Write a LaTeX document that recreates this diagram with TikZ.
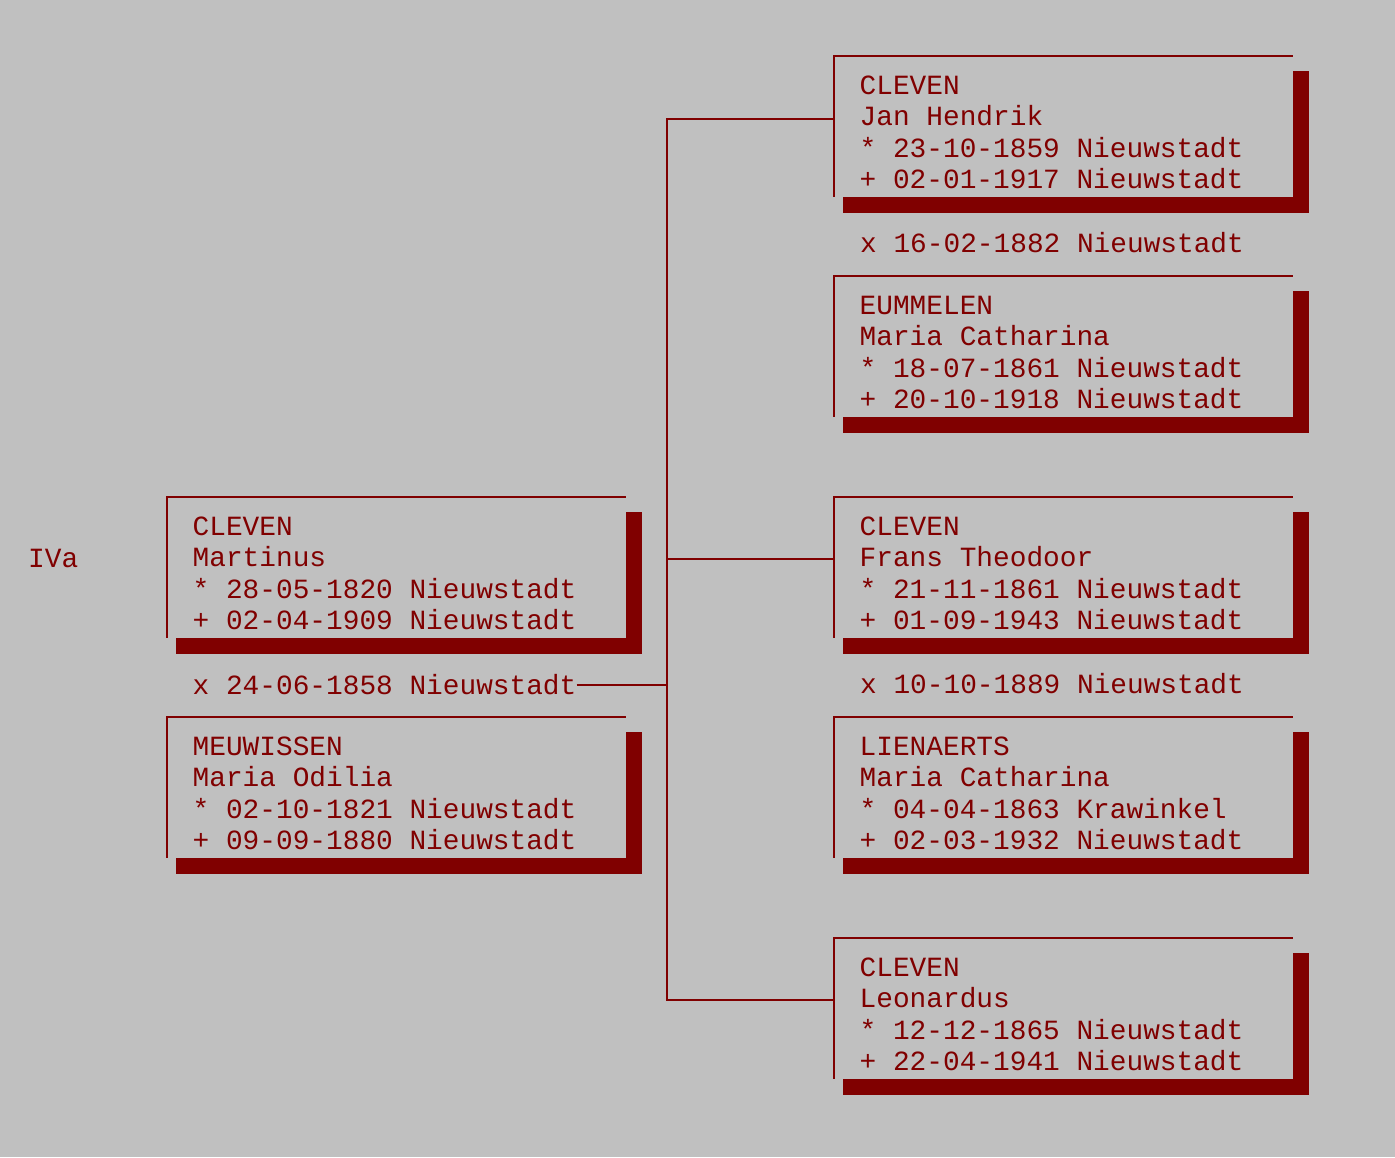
\documentclass[tikz,border=0pt]{standalone}
\usepackage{fontspec}
\newfontfamily\gedfont{Liberation Mono}
\usetikzlibrary{calc,positioning}
\definecolor{ahnred}{HTML}{800000}
\definecolor{ahngray}{HTML}{C0C0C0}

% one person: name, north west corner, lines
\newcommand\ahnbox[3]{%
  \node[pbox] (#1) at (#2) {};
  \node[ptxt] (#1-t) at ($(#1.north west)+(25.5,132.5)$) {#3};
  \draw[thinln] ($(#1.north west)+(-1,0)$) -- (#1.north east);
  \draw[thinln] (#1.north west) -- (#1.south west);
  \fill[ahnred] ($(#1.north east)+(0,15)$) rectangle ($(#1.south east)+(16,16)$);
  \fill[ahnred] ($(#1.south west)+(9,0)$) rectangle ($(#1.south east)+(16,16)$);
}

\begin{document}
\begin{tikzpicture}[x=1pt,y=-1pt,
  pbox/.style={rectangle, inner sep=0, minimum width=459pt, minimum height=141pt, anchor=north west},
  ptxt/.style={anchor=base west, inner sep=0, align=left, text=ahnred,
    font=\gedfont\fontsize{27.8}{31.3}\selectfont},
  thinln/.style={draw=ahnred, line width=2pt}]
\fill[ahngray] (0,0) rectangle (1395,1157);
\useasboundingbox (0,0) rectangle (1395,1157);

\node[ptxt] (gen) at (28,567.5) {IVa};

\ahnbox{martinus}{167,497}{CLEVEN\\Martinus\\* 28-05-1820 Nieuwstadt\\+ 02-04-1909 Nieuwstadt}
\ahnbox{odilia}{167,717}{MEUWISSEN\\Maria Odilia\\* 02-10-1821 Nieuwstadt\\+ 09-09-1880 Nieuwstadt}
\node[ptxt] (mx1) at ($(martinus.south west)+(25.5,56)$) {x 24-06-1858 Nieuwstadt};

\ahnbox{jan}{834,56}{CLEVEN\\Jan Hendrik\\* 23-10-1859 Nieuwstadt\\+ 02-01-1917 Nieuwstadt}
\node[ptxt] (mx2) at ($(jan.south west)+(26,55)$) {x 16-02-1882 Nieuwstadt};
\ahnbox{eummelen}{834,276}{EUMMELEN\\Maria Catharina\\* 18-07-1861 Nieuwstadt\\+ 20-10-1918 Nieuwstadt}

\ahnbox{frans}{834,497}{CLEVEN\\Frans Theodoor\\* 21-11-1861 Nieuwstadt\\+ 01-09-1943 Nieuwstadt}
\node[ptxt] (mx3) at ($(frans.south west)+(26,55)$) {x 10-10-1889 Nieuwstadt};
\ahnbox{lienaerts}{834,717}{LIENAERTS\\Maria Catharina\\* 04-04-1863 Krawinkel\\+ 02-03-1932 Nieuwstadt}

\ahnbox{leonardus}{834,938}{CLEVEN\\Leonardus\\* 12-12-1865 Nieuwstadt\\+ 22-04-1941 Nieuwstadt}

\coordinate (fork) at (667,686);
\coordinate (jan-in) at ($(jan.north west)+(0,63)$);
\coordinate (frans-in) at ($(frans.north west)+(0,62)$);
\coordinate (leo-in) at ($(leonardus.north west)+(0,62)$);

\draw[thinln] (mx1.east) -- (mx1.east -| fork);
\draw[thinln] (jan-in) -| (fork) |- (leo-in);
\draw[thinln] (fork |- frans-in) -- (frans-in);
\end{tikzpicture}
\end{document}
